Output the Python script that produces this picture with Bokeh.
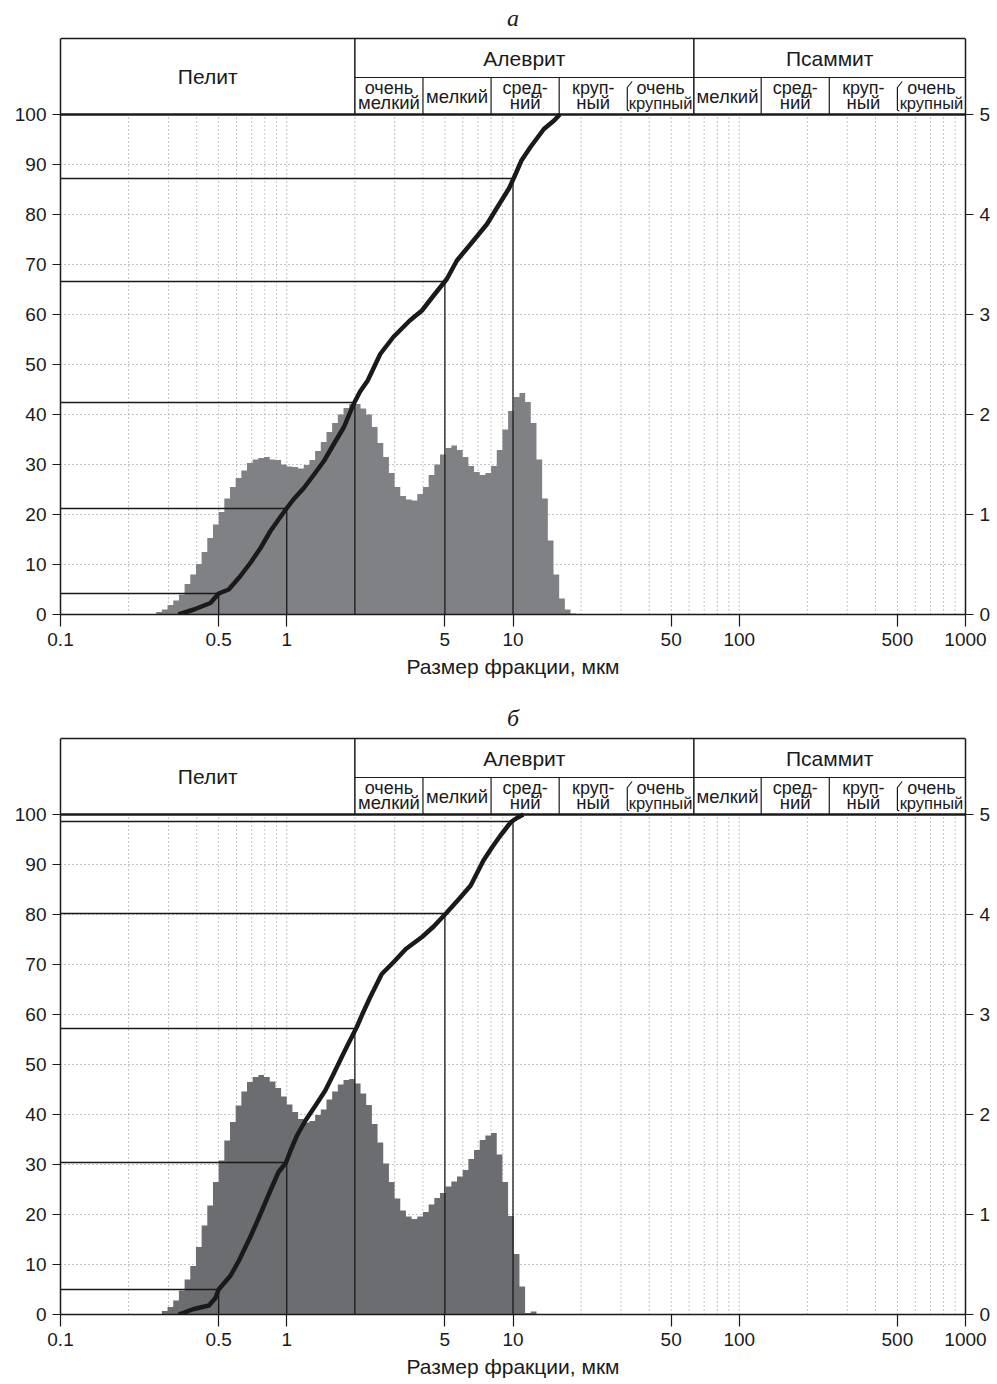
from bokeh.plotting import figure
from bokeh.models import Range1d, LinearAxis, FixedTicker, CustomJSTickFormatter
from bokeh.layouts import column
from bokeh.embed import file_html
from bokeh.resources import INLINE
from bokeh.core.properties import value

FONT = "Liberation Sans"

# ---------------- axes / classes ----------------
x_ticks = [0.1, 0.5, 1, 5, 10, 50, 100, 500, 1000]
left_ticks = [0, 10, 20, 30, 40, 50, 60, 70, 80, 90, 100]
right_ticks = [0, 1, 2, 3, 4, 5]
x_title = "Размер фракции, мкм"

main_classes = ["Пелит", "Алеврит", "Псаммит"]
main_bounds = [0.1, 2, 63, 1000]
sub_bounds = [2, 4, 8, 16, 32, 63, 125, 250, 500, 1000]
sub_line1 = ["очень", "", "сред-", "круп-", "очень", "", "сред-", "круп-", "очень"]
sub_line2 = ["мелкий", "мелкий", "ний", "ный", "крупный", "мелкий", "ний", "ный", "крупный"]
bracket_bounds = [32, 500]

ref_sizes = [0.5, 1, 2, 5, 10]

# ---------------- panel а ----------------
a_label = "а"
a_first_bin = -23          # bins of 1/12 octave, lower edge 2**(k/12) µm
a_hist = [0.025, 0.05, 0.095, 0.14, 0.20, 0.305, 0.40, 0.505, 0.625, 0.765, 0.90,
          1.025, 1.16, 1.275, 1.365, 1.44, 1.515, 1.55, 1.565, 1.575, 1.55, 1.545, 1.50,
          1.48, 1.475, 1.46, 1.495, 1.545, 1.635, 1.725, 1.825, 1.915, 2.00, 2.065, 2.105,
          2.105, 2.06, 2.00, 1.875, 1.715, 1.575, 1.415, 1.275, 1.185, 1.15, 1.14, 1.205,
          1.275, 1.395, 1.50, 1.60, 1.665, 1.69, 1.645, 1.575, 1.485, 1.425, 1.395, 1.415,
          1.485, 1.645, 1.85, 2.035, 2.175, 2.215, 2.125, 1.915, 1.55, 1.16, 0.74, 0.40,
          0.16, 0.05, 0.01]
a_curve_size = [0.332, 0.389, 0.46, 0.5, 0.554, 0.624, 0.69, 0.766, 0.847, 0.92, 0.99,
                1.07, 1.19, 1.32, 1.46, 1.61, 1.79, 1.98, 2.11, 2.28, 2.59, 2.96, 3.5,
                3.96, 4.46, 5.1, 5.65, 6.5, 7.68, 8.7, 9.6, 10.2, 10.9, 11.95, 13.7,
                15.2, 16.1]
a_curve_cum = [0, 1.0, 2.3, 4.2, 5.0, 7.7, 10.3, 13.3, 16.7, 19.0, 21.0,
               23.0, 25.3, 28.0, 30.7, 34.0, 37.5, 42.2, 44.6, 46.8, 52.1, 55.5, 58.8,
               60.8, 63.8, 67.1, 70.8, 74.1, 78.1, 82.1, 85.2, 87.8, 90.8, 93.5, 97.1,
               98.8, 100]
a_ref_cum = [4.2, 21.2, 42.4, 66.6, 87.2]

# ---------------- panel б ----------------
b_label = "б"
b_first_bin = -22
b_hist = [0.035, 0.075, 0.14, 0.24, 0.35, 0.485, 0.675, 0.89, 1.09, 1.325,
          1.54, 1.74, 1.925, 2.09, 2.23, 2.325, 2.375, 2.395, 2.375, 2.33, 2.265, 2.18,
          2.10, 2.025, 1.955, 1.92, 1.935, 1.995, 2.05, 2.15, 2.23, 2.30, 2.345, 2.355,
          2.31, 2.21, 2.095, 1.905, 1.72, 1.51, 1.325, 1.16, 1.04, 0.98, 0.955, 0.98,
          1.025, 1.10, 1.165, 1.215, 1.28, 1.33, 1.38, 1.445, 1.555, 1.645, 1.745, 1.79,
          1.815, 1.60, 1.325, 0.985, 0.605, 0.28, 0.015, 0.03]
b_curve_size = [0.333, 0.388, 0.453, 0.484, 0.5, 0.565, 0.615, 0.69, 0.765, 0.847, 0.92,
                0.99, 1.04, 1.11, 1.21, 1.34, 1.48, 1.61, 1.75, 1.84, 2.04, 2.16, 2.34,
                2.63, 2.97, 3.36, 3.96, 4.46, 5.1, 5.77, 6.5, 6.9, 7.4, 8.1, 8.8, 9.8,
                10.4, 11.1]
b_curve_cum = [0, 1.1, 1.8, 3.3, 5.0, 7.8, 10.8, 15.5, 20.1, 24.8, 28.5,
               30.3, 32.8, 35.8, 38.8, 41.8, 44.8, 48.1, 51.5, 53.5, 57.5, 60.1, 63.5,
               68.1, 70.5, 73.1, 75.5, 77.6, 80.4, 83.1, 85.8, 88.1, 90.8, 93.5, 95.8, 98.5,
               99.3, 100]
b_ref_cum = [5.0, 30.4, 57.2, 80.2, 98.6]

# ---------------- styling ----------------
X_MIN, X_MAX = 0.1, 1000
Y_TOP = 122.8        # canvas top (title row)
HDR_TOP = 115.2
HDR_MID = 107.4
PLOT_TOP = 100
INK = "#1a1a1a"
GRID = "#8a8a8a"


def make_panel(label, first_bin, hist, csize, ccum, rcum, color, height, bottom):
    p = figure(width=997, height=height, x_axis_type="log",
               x_range=Range1d(X_MIN, X_MAX), y_range=Range1d(0, Y_TOP),
               output_backend="svg", toolbar_location=None,
               min_border_left=60, min_border_right=32, min_border_top=0,
               min_border_bottom=bottom)
    p.outline_line_color = None
    p.xgrid.visible = False
    p.ygrid.visible = False
    p.background_fill_color = "white"
    p.border_fill_color = "white"
    p.extra_y_ranges = {"pct": Range1d(0, Y_TOP / 20.0)}

    # dotted grid
    gx = [m * 10.0 ** e for e in range(-1, 3) for m in range(1, 10) if m * 10.0 ** e > X_MIN]
    p.segment(x0=gx, y0=[0] * len(gx), x1=gx, y1=[PLOT_TOP] * len(gx),
              line_color=GRID, line_dash="1 3", line_width=1)
    gy = left_ticks[1:-1]
    p.segment(x0=[X_MIN] * len(gy), y0=gy, x1=[X_MAX] * len(gy), y1=gy,
              line_color=GRID, line_dash="1 3", line_width=1)

    # histogram (1/12-octave bins), drawn as one stepped area
    ks = list(range(first_bin, first_bin + len(hist)))
    lefts = [2 ** (k / 12.0) for k in ks]
    rights = [2 ** ((k + 1) / 12.0) for k in ks]
    hx, hy = [lefts[0]], [0]
    for l, r, h in zip(lefts, rights, hist):
        hx += [l, r]
        hy += [h, h]
    hx.append(rights[-1])
    hy.append(0)
    p.patch(hx, hy, y_range_name="pct", fill_color=color, line_color=None)

    # reference lines
    n = len(ref_sizes)
    p.segment(x0=[X_MIN] * n, y0=rcum, x1=ref_sizes, y1=rcum, line_color=INK, line_width=1.3)
    p.segment(x0=ref_sizes, y0=[0] * n, x1=ref_sizes, y1=rcum, line_color=INK, line_width=1.3)

    # cumulative curve
    p.line(csize, ccum, line_color=INK, line_width=4.5, line_join="round")

    # header table
    p.segment(x0=[X_MIN], y0=[PLOT_TOP], x1=[X_MAX], y1=[PLOT_TOP], line_color=INK, line_width=2.5)
    p.segment(x0=[X_MIN], y0=[HDR_TOP], x1=[X_MAX], y1=[HDR_TOP], line_color=INK, line_width=1.5)
    p.segment(x0=[main_bounds[1]], y0=[HDR_MID], x1=[X_MAX], y1=[HDR_MID], line_color=INK, line_width=1.2)
    inner = main_bounds[1:-1]
    p.segment(x0=inner, y0=[PLOT_TOP] * len(inner), x1=inner, y1=[HDR_TOP] * len(inner),
              line_color=INK, line_width=1.5)
    subdiv = [b for b in sub_bounds[1:-1] if b not in main_bounds and b not in bracket_bounds]
    p.segment(x0=subdiv, y0=[PLOT_TOP] * len(subdiv), x1=subdiv, y1=[HDR_MID] * len(subdiv),
              line_color=INK, line_width=1.2)
    for b in bracket_bounds:
        p.line([b * 1.05, b, b, b * 1.02], [106.6, 105.4, 100.9, 100.7],
               line_color=INK, line_width=1.2)

    mx = [(main_bounds[i] * main_bounds[i + 1]) ** 0.5 for i in range(3)]
    my = [(PLOT_TOP + HDR_TOP) / 2, (HDR_MID + HDR_TOP) / 2, (HDR_MID + HDR_TOP) / 2]
    p.text(x=mx, y=my, text=main_classes, text_align="center", text_baseline="middle",
           text_font=value(FONT), text_font_size="21px", text_color=INK)

    sx1, sy1, st1, sx2, sy2, st2, sf = [], [], [], [], [], [], []
    for i in range(len(sub_line2)):
        cx = (sub_bounds[i] * sub_bounds[i + 1]) ** 0.5
        if sub_line1[i]:
            sx1.append(cx); sy1.append(105.3); st1.append(sub_line1[i])
            sx2.append(cx); sy2.append(102.4)
        else:
            sx2.append(cx); sy2.append((PLOT_TOP + HDR_MID) / 2)
        st2.append(sub_line2[i])
        sf.append("16.5px" if sub_line2[i] == "крупный" else "18.5px")
    p.text(x=sx1, y=sy1, text=st1, text_align="center", text_baseline="middle",
           text_font=value(FONT), text_font_size="18px", text_color=INK)
    p.text(x=sx2, y=sy2, text=st2, text_align="center", text_baseline="middle",
           text_font=value(FONT), text_font_size=sf, text_color=INK)

    # panel letter
    p.text(x=[(X_MIN * X_MAX) ** 0.5], y=[(Y_TOP + HDR_TOP) / 2 + 0.3], text=[label],
           text_align="center", text_baseline="middle",
           text_font=value("Liberation Serif"), text_font_style="italic",
           text_font_size="24px", text_color=INK)

    # axes
    xa = p.xaxis[0]
    xa.ticker = FixedTicker(ticks=x_ticks, minor_ticks=[])
    xa.formatter = CustomJSTickFormatter(code="return String(tick);")
    xa.major_tick_out = 12
    xa.major_tick_in = 0
    xa.minor_tick_line_color = None
    xa.axis_label = x_title
    xa.axis_label_text_font_style = "normal"

    ya = p.yaxis[0]
    ya.ticker = FixedTicker(ticks=left_ticks, minor_ticks=[])
    ya.bounds = (0, HDR_TOP)
    ya.major_tick_out = 8
    ya.major_tick_in = 0
    ya.minor_tick_line_color = None

    ra = LinearAxis(y_range_name="pct", ticker=FixedTicker(ticks=right_ticks, minor_ticks=[]),
                    bounds=(0, HDR_TOP / 20.0), major_tick_out=8, major_tick_in=0,
                    minor_tick_line_color=None)
    p.add_layout(ra, "right")

    for ax in (xa, ya, ra):
        ax.axis_line_color = INK
        ax.axis_line_width = 1.5
        ax.major_tick_line_color = INK
        ax.major_tick_line_width = 1.2
        ax.major_label_text_font = FONT
        ax.major_label_text_font_size = "19px"
        ax.major_label_text_color = INK
        ax.major_label_standoff = 6
        ax.axis_label_text_font = FONT
        ax.axis_label_text_font_size = "21px"
        ax.axis_label_text_color = INK
        ax.axis_label_standoff = 6
    return p


p1 = make_panel(a_label, a_first_bin, a_hist, a_curve_size, a_curve_cum, a_ref_cum,
                "#808185", 700, 86)
p2 = make_panel(b_label, b_first_bin, b_hist, b_curve_size, b_curve_cum, b_ref_cum,
                "#6c6d70", 684, 70)

layout = column(p1, p2, spacing=0)
open("out.html", "w").write(file_html(layout, INLINE))
